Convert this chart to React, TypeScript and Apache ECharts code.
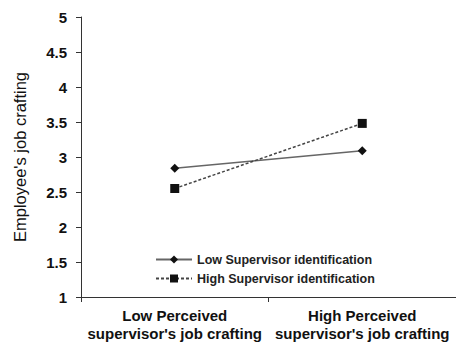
import React, { useEffect, useRef } from "react";
import * as echarts from "echarts";

const categories = ["Low Perceived\nsupervisor's job crafting", "High Perceived\nsupervisor's job crafting"];
const lowSupervisor = [2.84, 3.09];
const highSupervisor = [2.55, 3.48];
const seriesNames = ["Low Supervisor identification", "High Supervisor identification"];

export default function App() {
  const ref = useRef<HTMLDivElement>(null);
  useEffect(() => {
    const chart = echarts.init(ref.current!, null, { renderer: "svg" });
    const font = "Liberation Sans, Arial, sans-serif";
    chart.setOption({
      animation: false,
      backgroundColor: "#fff",
      textStyle: { fontFamily: font },
      grid: { left: 81, right: -7, top: 17, bottom: 45, containLabel: false },
      legend: {
        left: 150,
        top: 248,
        orient: "vertical",
        itemGap: 6,
        itemWidth: 36,
        itemHeight: 10,
        textStyle: { fontSize: 12.5, fontWeight: "bold", color: "#222", fontFamily: font },
        data: seriesNames,
      },
      xAxis: {
        type: "category",
        data: categories,
        boundaryGap: true,
        axisLine: { lineStyle: { color: "#333", width: 1 } },
        axisTick: { show: true, length: 5, lineStyle: { color: "#333" } },
        axisLabel: {
          interval: 0,
          hideOverlap: false,
          fontSize: 15,
          fontWeight: "bold",
          color: "#111",
          margin: 9,
          lineHeight: 18,
          fontFamily: font,
        },
      },
      yAxis: {
        type: "value",
        min: 1,
        max: 5,
        interval: 0.5,
        name: "Employee's job crafting",
        nameLocation: "middle",
        nameGap: 53,
        nameTextStyle: { fontSize: 16.5, color: "#111", fontFamily: font },
        axisLine: { show: true, lineStyle: { color: "#333" } },
        axisTick: { show: true, length: 5, lineStyle: { color: "#333" } },
        splitLine: { show: false },
        axisLabel: { fontSize: 15, fontWeight: "bold", color: "#111", margin: 14, fontFamily: font },
      },
      series: [
        {
          name: seriesNames[0],
          type: "line",
          data: lowSupervisor,
          symbol: "diamond",
          symbolSize: 9,
          itemStyle: { color: "#111" },
          lineStyle: { color: "#666", width: 1.5, type: "solid" },
        },
        {
          name: seriesNames[1],
          type: "line",
          data: highSupervisor,
          symbol: "rect",
          symbolSize: 9,
          itemStyle: { color: "#111" },
          lineStyle: { color: "#444", width: 1.5, type: [3, 2] },
        },
      ],
    });
    return () => chart.dispose();
  }, []);
  return <div ref={ref} style={{ width: 456, height: 342, position: "absolute", left: 0, top: 0 }} />;
}
